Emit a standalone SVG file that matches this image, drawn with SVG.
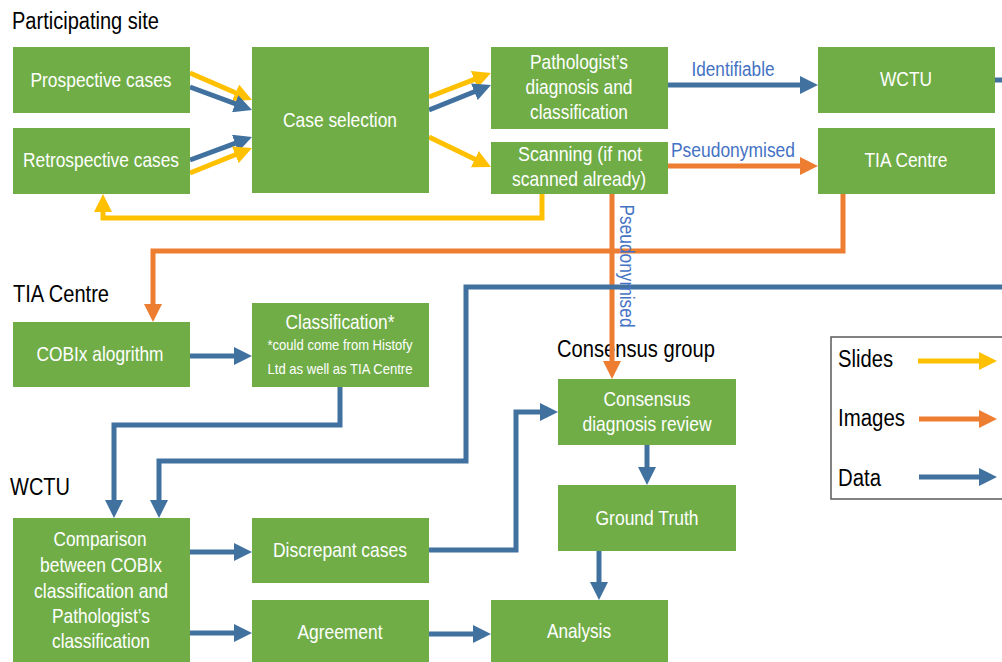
<svg xmlns="http://www.w3.org/2000/svg" width="1002" height="662" viewBox="0 0 1002 662">
<defs>
<style>
.box{fill:#70AD47;}
.bt{font-family:"Liberation Sans",Arial,sans-serif;font-size:21px;fill:#ffffff;text-anchor:middle;}
.st{font-family:"Liberation Sans",Arial,sans-serif;font-size:15px;fill:#ffffff;text-anchor:middle;}
.tt{font-family:"Liberation Sans",Arial,sans-serif;font-size:23px;fill:#000000;}
.lb{font-family:"Liberation Sans",Arial,sans-serif;font-size:20px;fill:#4472C4;text-anchor:middle;}
.y{stroke:#FFC000;stroke-width:5;fill:none;}
.o{stroke:#ED7D31;stroke-width:5;fill:none;}
.b{stroke:#41729F;stroke-width:5;fill:none;}
.ya{marker-end:url(#ay);}
.oa{marker-end:url(#ao);}
.ba{marker-end:url(#ab);}
</style>
<marker id="ay" viewBox="0 0 18 18" markerWidth="18" markerHeight="18" markerUnits="userSpaceOnUse" refX="10" refY="9" orient="auto"><path d="M0,0 L18,9 L0,18 z" fill="#FFC000"/></marker>
<marker id="ao" viewBox="0 0 18 18" markerWidth="18" markerHeight="18" markerUnits="userSpaceOnUse" refX="10" refY="9" orient="auto"><path d="M0,0 L18,9 L0,18 z" fill="#ED7D31"/></marker>
<marker id="ab" viewBox="0 0 18 18" markerWidth="18" markerHeight="18" markerUnits="userSpaceOnUse" refX="10" refY="9" orient="auto"><path d="M0,0 L18,9 L0,18 z" fill="#41729F"/></marker>
</defs>
<rect width="1002" height="662" fill="#ffffff"/>

<g id="titles">
<text class="tt" x="12" y="29" textLength="147" lengthAdjust="spacingAndGlyphs">Participating site</text>
<text class="tt" x="13" y="302" textLength="96" lengthAdjust="spacingAndGlyphs">TIA Centre</text>
<text class="tt" x="10" y="495" textLength="60" lengthAdjust="spacingAndGlyphs">WCTU</text>
<text class="tt" x="557" y="357" textLength="158" lengthAdjust="spacingAndGlyphs">Consensus group</text>
</g>

<g id="connectors">
<path class="y ya" d="M190,73 L244.7,96.8"/>
<path class="b ba" d="M190,87 L244.5,107.2"/>
<path class="b ba" d="M190,160 L244.5,139.8"/>
<path class="y ya" d="M190,173 L244.6,151"/>
<path class="y ya" d="M429,97 L483.5,75.9"/>
<path class="b ba" d="M429,110 L483.6,88"/>
<path class="y ya" d="M429,137 L483.8,163.5"/>
<path class="b ba" d="M668,85 L810,85"/>
<path class="o oa" d="M668,166 L810,166"/>
<path class="b" d="M995,80 L1002,80"/>
<path class="y ya" d="M542,194 L542,218 L103,218 L103,202"/>
<path class="o oa" d="M843,194 L843,251 L153,251 L153,314"/>
<path class="o oa" d="M612,194 L612,371"/>
<path class="b ba" d="M1002,287 L466,287 L466,461 L159,461 L159,510"/>
<path class="b ba" d="M340,387 L340,425 L114,425 L114,510"/>
<path class="b ba" d="M190,356 L244,356"/>
<path class="b ba" d="M190,552 L244,552"/>
<path class="b ba" d="M190,633 L244,633"/>
<path class="b ba" d="M429,634 L483,634"/>
<path class="b ba" d="M429,550 L516,550 L516,412 L550,412"/>
<path class="b ba" d="M647,445 L647,477"/>
<path class="b ba" d="M599,551 L599,592"/>
<text class="lb" x="733" y="76" textLength="83" lengthAdjust="spacingAndGlyphs">Identifiable</text>
<text class="lb" x="733" y="157" textLength="124" lengthAdjust="spacingAndGlyphs">Pseudonymised</text>
<text class="lb" transform="translate(620,266) rotate(90)" x="0" y="0" textLength="123" lengthAdjust="spacingAndGlyphs">Pseudonymised</text>
</g>

<g id="prospective"><rect class="box" x="13" y="47" width="177" height="66"/><text class="bt" x="101" y="87" textLength="141" lengthAdjust="spacingAndGlyphs">Prospective cases</text></g>
<g id="retrospective"><rect class="box" x="13" y="128" width="177" height="66"/><text class="bt" x="101" y="167" textLength="156" lengthAdjust="spacingAndGlyphs">Retrospective cases</text></g>
<g id="case-selection"><rect class="box" x="252" y="47" width="177" height="146"/><text class="bt" x="340" y="127" textLength="114" lengthAdjust="spacingAndGlyphs">Case selection</text></g>
<g id="pathologist"><rect class="box" x="491" y="47" width="177" height="82"/>
<text class="bt" x="579" y="69" textLength="98" lengthAdjust="spacingAndGlyphs">Pathologist’s</text>
<text class="bt" x="579" y="94" textLength="107" lengthAdjust="spacingAndGlyphs">diagnosis and</text>
<text class="bt" x="579" y="119" textLength="98" lengthAdjust="spacingAndGlyphs">classification</text></g>
<g id="scanning"><rect class="box" x="491" y="142" width="177" height="52"/>
<text class="bt" x="580" y="161" textLength="124" lengthAdjust="spacingAndGlyphs">Scanning (if not</text>
<text class="bt" x="579" y="186" textLength="134" lengthAdjust="spacingAndGlyphs">scanned already)</text></g>
<g id="wctu-box"><rect class="box" x="818" y="47" width="177" height="66"/><text class="bt" x="906" y="86" textLength="52" lengthAdjust="spacingAndGlyphs">WCTU</text></g>
<g id="tia-box"><rect class="box" x="818" y="128" width="177" height="66"/><text class="bt" x="906" y="167" textLength="83" lengthAdjust="spacingAndGlyphs">TIA Centre</text></g>
<g id="cobix"><rect class="box" x="13" y="322" width="177" height="65"/><text class="bt" x="100" y="361" textLength="127" lengthAdjust="spacingAndGlyphs">COBIx alogrithm</text></g>
<g id="classification"><rect class="box" x="252" y="303" width="177" height="84"/>
<text class="bt" x="340" y="329" textLength="109" lengthAdjust="spacingAndGlyphs">Classification*</text>
<text class="st" x="340" y="350" textLength="145" lengthAdjust="spacingAndGlyphs">*could come from Histofy</text>
<text class="st" x="340" y="374" textLength="145" lengthAdjust="spacingAndGlyphs">Ltd as well as TIA Centre</text></g>
<g id="consensus-review"><rect class="box" x="558" y="379" width="178" height="66"/>
<text class="bt" x="647" y="406" textLength="87" lengthAdjust="spacingAndGlyphs">Consensus</text>
<text class="bt" x="647" y="431" textLength="129" lengthAdjust="spacingAndGlyphs">diagnosis review</text></g>
<g id="ground-truth"><rect class="box" x="558" y="485" width="178" height="66"/><text class="bt" x="647" y="525" textLength="103" lengthAdjust="spacingAndGlyphs">Ground Truth</text></g>
<g id="comparison"><rect class="box" x="13" y="518" width="177" height="144"/>
<text class="bt" x="100" y="546" textLength="93" lengthAdjust="spacingAndGlyphs">Comparison</text>
<text class="bt" x="101" y="572" textLength="122" lengthAdjust="spacingAndGlyphs">between COBIx</text>
<text class="bt" x="101" y="598" textLength="134" lengthAdjust="spacingAndGlyphs">classification and</text>
<text class="bt" x="101" y="623" textLength="98" lengthAdjust="spacingAndGlyphs">Pathologist’s</text>
<text class="bt" x="101" y="648" textLength="98" lengthAdjust="spacingAndGlyphs">classification</text></g>
<g id="discrepant"><rect class="box" x="252" y="518" width="177" height="65"/><text class="bt" x="340" y="557" textLength="134" lengthAdjust="spacingAndGlyphs">Discrepant cases</text></g>
<g id="agreement"><rect class="box" x="252" y="600" width="177" height="62"/><text class="bt" x="340" y="639" textLength="85" lengthAdjust="spacingAndGlyphs">Agreement</text></g>
<g id="analysis"><rect class="box" x="491" y="600" width="177" height="62"/><text class="bt" x="579" y="638" textLength="64" lengthAdjust="spacingAndGlyphs">Analysis</text></g>

<g id="legend">
<rect x="831" y="337" width="175" height="162" fill="#ffffff" stroke="#595959" stroke-width="1.5"/>
<text class="tt" x="838" y="367" textLength="55" lengthAdjust="spacingAndGlyphs">Slides</text>
<text class="tt" x="838" y="426" textLength="67" lengthAdjust="spacingAndGlyphs">Images</text>
<text class="tt" x="838" y="486" textLength="43" lengthAdjust="spacingAndGlyphs">Data</text>
<path class="y ya" d="M918,361 L989,361"/>
<path class="o oa" d="M919,419 L989,419"/>
<path class="b ba" d="M919,477 L989,477"/>
</g>
</svg>
